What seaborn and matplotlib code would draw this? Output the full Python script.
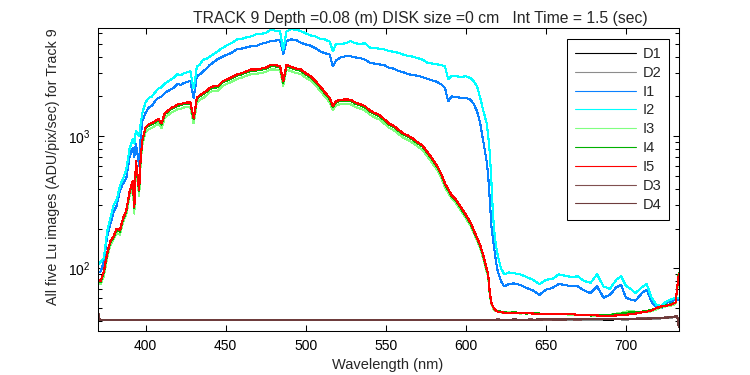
import matplotlib
matplotlib.use("Agg")
import numpy as np
import pandas as pd
import matplotlib.pyplot as plt
import seaborn as sns
from matplotlib.ticker import LogLocator, NullFormatter, FixedLocator

sns.set_theme(style="ticks")
plt.rcParams["font.family"] = ["Liberation Sans", "DejaVu Sans"]
plt.rcParams["mathtext.fontset"] = "custom"
plt.rcParams["mathtext.rm"] = "Liberation Sans"
plt.rcParams["mathtext.it"] = "Liberation Sans"
plt.rcParams["mathtext.default"] = "regular"

# wavelength grid for the lamp images (nm)
wl = [370, 372, 374, 376, 378, 380, 382, 384, 386, 388,
      390, 392, 393, 394, 396, 397, 398, 400, 402, 404,
      406, 408, 410, 412, 414, 416, 418, 420, 422, 424,
      426, 428, 430, 431, 432, 434, 436, 438, 440, 442,
      445, 448, 451, 454, 457, 460, 463, 466, 469, 472,
      475, 478, 481, 484, 486, 488, 491, 494, 497, 500,
      503, 506, 509, 512, 515, 517, 519, 522, 525, 528,
      531, 534, 537, 540, 543, 546, 549, 552, 555, 558,
      561, 564, 567, 570, 573, 576, 579, 582, 585, 587,
      589, 591, 594, 597, 600, 603, 605, 607, 609, 611,
      613, 614, 615, 616, 617, 618, 619, 620, 622, 624,
      627, 630, 634, 638, 642, 646, 650, 654, 658, 662,
      666, 670, 674, 678, 682, 686, 690, 694, 697, 700,
      703, 706, 710, 713, 716, 719, 722, 725, 728, 731,
      733]

I1 = [92, 95, 112, 175, 215, 265, 300, 390, 440, 480,
      700, 820, 700, 880, 600, 1000, 1300, 1500, 1650, 1700,
      1850, 1950, 2000, 2120, 2200, 2270, 2350, 2480, 2450, 2530,
      2580, 2620, 1950, 2300, 2850, 2950, 3100, 3250, 3450, 3600,
      3830, 4000, 4150, 4300, 4550, 4600, 4700, 4800, 4800, 5000,
      5100, 5240, 5300, 5350, 4200, 5250, 5400, 5350, 5100, 4950,
      4850, 4650, 4400, 4250, 4150, 3380, 3750, 3950, 4030, 4030,
      3950, 3900, 3800, 3600, 3550, 3500, 3460, 3300, 3250, 3120,
      3050, 2950, 2900, 2870, 2800, 2720, 2650, 2580, 2450, 2320,
      1840, 2000, 1980, 1950, 1950, 1890, 1750, 1550, 1260, 900,
      650, 500, 330, 210, 165, 135, 110, 95, 80, 73,
      76, 77, 75, 71, 68, 63, 69, 71, 76, 75,
      73, 73, 68, 65, 73, 60, 63, 72, 75, 60,
      58, 57, 65, 69, 56, 51, 50, 55, 56, 58,
      58]

I2 = [105, 112, 120, 190, 240, 300, 330, 420, 480, 560,
      800, 950, 880, 1100, 1000, 1250, 1500, 1800, 1950, 2000,
      2150, 2300, 2350, 2500, 2600, 2700, 2800, 2950, 2900, 3000,
      3050, 3100, 2300, 2700, 3350, 3500, 3800, 3850, 4000, 4150,
      4400, 4650, 4900, 5100, 5400, 5450, 5600, 5700, 5900, 5950,
      6050, 6400, 6300, 6200, 4500, 6200, 6450, 6400, 6250, 6000,
      5800, 5700, 5450, 5400, 5200, 4400, 5000, 5000, 5050, 5250,
      5050, 5000, 5050, 4700, 4650, 4600, 4550, 4420, 4350, 4280,
      4150, 4050, 4000, 3900, 3800, 3600, 3550, 3500, 3450, 3380,
      2700, 2850, 2850, 2800, 2850, 2750, 2600, 2400, 1950, 1550,
      1260, 1000, 750, 450, 250, 180, 145, 125, 100, 90,
      93, 92, 90, 86, 82, 76, 82, 83, 90, 88,
      86, 87, 80, 78, 90, 73, 70, 82, 87, 74,
      70, 65, 72, 76, 60, 53, 52, 56, 58, 60,
      60]

I3 = [77, 76, 88, 120, 150, 165, 185, 180, 225, 255,
      350, 420, 260, 600, 350, 650, 860, 1080, 1130, 1160,
      1200, 1250, 1150, 1380, 1440, 1510, 1550, 1600, 1610, 1650,
      1660, 1650, 1250, 1470, 1800, 1890, 1950, 2030, 2140, 2200,
      2210, 2400, 2500, 2590, 2710, 2780, 2870, 2960, 2970, 3010,
      3060, 3200, 3200, 3150, 2400, 3200, 3100, 3010, 2960, 2780,
      2640, 2430, 2220, 2000, 1810, 1570, 1720, 1750, 1760, 1750,
      1670, 1620, 1570, 1460, 1390, 1340, 1250, 1160, 1110, 1040,
      975, 935, 890, 835, 790, 705, 630, 560, 475, 410,
      375, 340, 310, 272, 240, 210, 185, 163, 142, 118,
      95, 86, 63, 54, 50, 48, 47.5, 47, 46.5, 46,
      46.5, 46, 45.5, 46, 45.5, 45, 45.5, 45, 45.5, 45,
      44.5, 44.5, 44.5, 44, 44, 44, 44.5, 45.5, 46, 47,
      47.5, 47, 46.5, 46.5, 47.5, 49, 50.5, 51.5, 52, 54,
      88]

I4 = [80, 79, 93, 127, 157, 172, 196, 190, 236, 270,
      372, 452, 285, 638, 382, 688, 915, 1150, 1205, 1235,
      1275, 1325, 1225, 1470, 1530, 1610, 1650, 1705, 1715, 1755,
      1765, 1765, 1350, 1570, 1910, 2010, 2080, 2160, 2275, 2330,
      2345, 2550, 2650, 2745, 2870, 2940, 3040, 3135, 3140, 3185,
      3235, 3390, 3380, 3330, 2550, 3390, 3285, 3185, 3135, 2940,
      2795, 2570, 2350, 2110, 1910, 1655, 1815, 1850, 1860, 1855,
      1765, 1715, 1655, 1540, 1470, 1420, 1325, 1225, 1175, 1100,
      1030, 990, 940, 882, 835, 745, 667, 588, 500, 432,
      392, 353, 324, 284, 250, 218, 191, 169, 147, 123,
      98, 89, 64, 55, 51, 49, 48, 47.5, 47, 46.5,
      46, 46.5, 46, 45.5, 46, 45.5, 45, 45.5, 45, 45.5,
      45, 44.5, 44.5, 44, 44.5, 44, 44.5, 45, 45.5, 46,
      46.5, 46.5, 47, 47.5, 48.5, 50, 51, 52.5, 53.5, 55,
      92]

I5 = [82, 80, 95, 130, 160, 175, 200, 195, 240, 275,
      380, 460, 290, 650, 390, 700, 930, 1170, 1230, 1260,
      1300, 1350, 1250, 1500, 1560, 1640, 1680, 1740, 1750, 1790,
      1800, 1800, 1380, 1600, 1950, 2050, 2120, 2200, 2320, 2380,
      2390, 2600, 2700, 2800, 2930, 3000, 3100, 3200, 3200, 3250,
      3300, 3460, 3450, 3400, 2600, 3460, 3350, 3250, 3200, 3000,
      2850, 2620, 2400, 2150, 1950, 1690, 1850, 1890, 1900, 1890,
      1800, 1750, 1690, 1570, 1500, 1450, 1350, 1250, 1200, 1120,
      1050, 1010, 960, 900, 850, 760, 680, 600, 510, 440,
      400, 360, 330, 290, 255, 222, 195, 172, 150, 125,
      100, 90, 65, 55, 51, 49, 48, 47, 47, 46,
      46, 46, 46, 46, 45.5, 45.5, 45.5, 45, 45, 45,
      45, 44.5, 44.5, 44.3, 44, 43.7, 43.7, 44, 44.3, 44.5,
      45, 45.5, 46.5, 47, 48, 50, 51.5, 52, 53, 55,
      90]

# dark images, coarser grid
dark_wl = [370, 371, 372, 380, 390, 400, 410, 420, 430, 440,
           450, 460, 470, 480, 490, 500, 510, 520, 530, 540,
           550, 560, 570, 580, 590, 600, 610, 620, 630, 640,
           650, 660, 670, 680, 690, 700, 710, 720, 725, 730,
           732, 733]

D1 = [50, 41.5, 40.6, 40.5, 40.8, 40.4, 40.7, 40.5, 40.9, 40.6,
      40.4, 40.8, 40.5, 40.7, 40.6, 40.9, 40.5, 40.7, 40.4, 40.8,
      40.6, 40.5, 40.8, 40.6, 40.4, 40.7, 40.9, 40.6, 40.5, 40.8,
      40.7, 41.0, 40.8, 41.1, 41.0, 41.3, 41.5, 41.8, 42.2, 42.8,
      43.2, 37]
D2 = [49, 41.2, 40.4, 40.7, 40.5, 40.8, 40.4, 40.7, 40.6, 40.4,
      40.8, 40.5, 40.7, 40.5, 40.9, 40.6, 40.8, 40.5, 40.7, 40.6,
      40.9, 40.7, 40.5, 40.8, 40.6, 40.9, 40.6, 40.8, 40.7, 40.6,
      41.0, 40.8, 41.1, 40.9, 41.2, 41.0, 41.4, 41.7, 42.0, 42.6,
      43.0, 37.5]
D3 = [51, 41.8, 40.8, 40.6, 40.9, 40.6, 40.9, 40.6, 40.8, 40.9,
      40.6, 40.7, 40.9, 40.6, 40.8, 40.7, 40.9, 40.6, 40.9, 40.7,
      40.8, 40.9, 40.6, 40.7, 40.9, 40.8, 40.7, 41.0, 40.8, 41.0,
      40.9, 41.2, 41.0, 41.3, 41.2, 41.5, 41.8, 42.0, 42.5, 43.0,
      43.8, 36.5]
D4 = [50.5, 41.6, 40.7, 40.8, 40.6, 40.9, 40.7, 40.8, 40.6, 40.7,
      40.9, 40.6, 40.8, 40.8, 40.6, 40.9, 40.7, 40.8, 40.7, 40.9,
      40.6, 40.8, 40.9, 40.6, 40.8, 40.7, 40.9, 40.7, 41.0, 40.9,
      41.1, 41.0, 41.2, 41.1, 41.4, 41.3, 41.6, 41.9, 42.3, 42.9,
      43.5, 36]

series_order = ["D1", "D2", "I1", "I2", "I3", "I4", "I5", "D3", "D4"]
series_colors = ["#000000", "#8c8c8c", "#0a80ff", "#00ffff", "#80ff80",
                 "#00b000", "#ff0000", "#805050", "#6e3c3c"]

series_data = {"D1": (dark_wl, D1), "D2": (dark_wl, D2),
               "I1": (wl, I1), "I2": (wl, I2), "I3": (wl, I3),
               "I4": (wl, I4), "I5": (wl, I5),
               "D3": (dark_wl, D3), "D4": (dark_wl, D4)}

frames = []
for name in series_order:
    x, y = series_data[name]
    assert len(x) == len(y), name
    frames.append(pd.DataFrame({"Wavelength": x, "Value": y, "Series": name}))
df = pd.concat(frames, ignore_index=True)

fig = plt.figure(figsize=(7.5, 3.75), dpi=100)
ax = fig.add_axes([0.13, 0.117, 0.775, 0.808])

sns.lineplot(
    data=df,
    x="Wavelength",
    y="Value",
    hue="Series",
    hue_order=series_order,
    palette=series_colors,
    estimator=None,
    sort=False,
    linewidth=0.8,
    antialiased=False,
    ax=ax
)

ax.set_yscale("log")
ax.set_xlim(370, 733)
ax.set_ylim(33.5, 6580)
ax.xaxis.set_major_locator(FixedLocator([400, 450, 500, 550, 600, 650, 700]))
ax.yaxis.set_major_locator(LogLocator(base=10))
ax.yaxis.set_minor_locator(LogLocator(base=10, subs=np.arange(2, 10)))
ax.yaxis.set_minor_formatter(NullFormatter())

ax.tick_params(axis="both", which="both", direction="in", top=True, right=True,
               colors="black", labelsize=10, width=0.75)
ax.tick_params(axis="both", which="major", length=4.5)
ax.tick_params(axis="y", which="minor", length=2.8)
ax.tick_params(axis="x", which="major", pad=6)
ax.tick_params(axis="y", which="major", pad=5)
for s in ax.spines.values():
    s.set_color("black")
    s.set_linewidth(0.75)

ax.set_xlabel("Wavelength (nm)", fontsize=10.5, labelpad=3)
ax.set_ylabel("")
fig.text(0.0707, 0.187, "All five Lu images (ADU/pix/sec) for Track 9",
         rotation=90, ha="center", va="bottom", fontsize=10.3)
fig.text(0.56, 0.952, "TRACK 9 Depth =0.08 (m) DISK size =0 cm   Int Time = 1.5 (sec)",
         ha="center", va="center", fontsize=11.3)

handles, labels = ax.get_legend_handles_labels()
leg = ax.legend(handles, labels, loc="upper right", bbox_to_anchor=(0.984, 0.964),
                fontsize=10.5, frameon=True, fancybox=False, framealpha=1,
                edgecolor="black", handlelength=4.2, handletextpad=0.45,
                labelspacing=0.33, borderpad=0.55, borderaxespad=0)
leg.get_frame().set_linewidth(0.75)

fig.savefig("out.png", dpi=100)
